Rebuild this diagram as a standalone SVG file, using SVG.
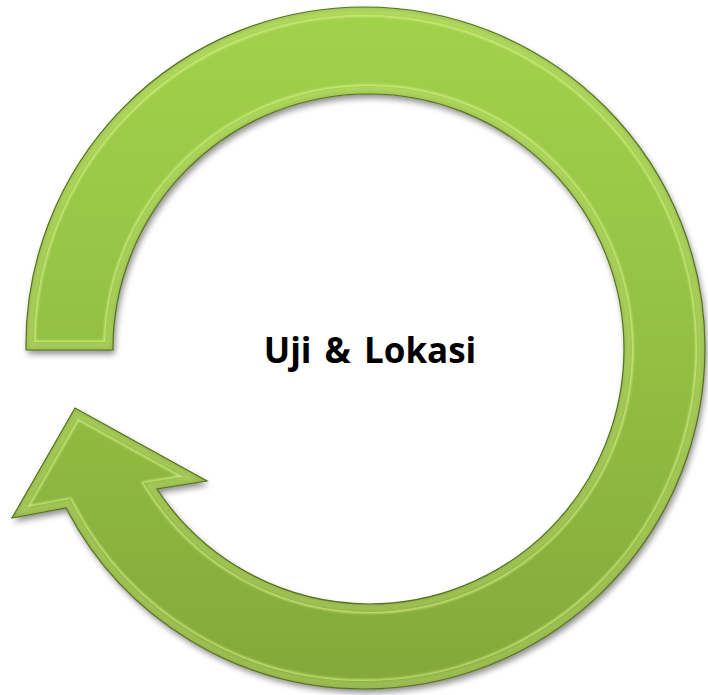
<svg xmlns="http://www.w3.org/2000/svg" width="708" height="695" viewBox="0 0 708 695">
  <style>
    .label { font-family: "Open Sans", "Noto Sans", "Liberation Sans", sans-serif; font-weight: bold; font-size: 35px; fill: #000; }
    .edge { fill: none; stroke: #55741c; stroke-width: 1.2; }
    .bevel-line { fill: none; stroke: #dcf68e; stroke-width: 19; stroke-opacity: 0.7; }
    .bevel-band { fill: none; stroke: url(#greenFill); stroke-width: 16; }
    .bevel-light { fill: none; stroke: #e4f99a; stroke-width: 14; stroke-opacity: 0.35; }
    .bevel-dark { fill: none; stroke: #5f8224; stroke-width: 5; stroke-opacity: 0.35; }
  </style>
  <defs>
    <path id="arrowShape" d="M 26,350 A 338,338 0 0 1 363,7 A 341,341 0 0 1 705,350 A 341,341 0 0 1 364,689 A 336,336 0 0 1 66,508 L 12,518 L 75,408 L 207,481 L 157,489 A 255,255 0 0 0 369,604 A 255,255 0 0 0 624,349 A 255,255 0 0 0 369,94 A 255,255 0 0 0 113,350 Z"/>
    <linearGradient id="greenFill" gradientUnits="userSpaceOnUse" x1="0" y1="7" x2="0" y2="689">
      <stop offset="0" stop-color="#a2d24c"/>
      <stop offset="0.5" stop-color="#93c043"/>
      <stop offset="1" stop-color="#84a83a"/>
    </linearGradient>
    <clipPath id="arrowClip">
      <use href="#arrowShape"/>
    </clipPath>
    <filter id="shadow" x="-10%" y="-10%" width="120%" height="120%">
      <feGaussianBlur in="SourceAlpha" stdDeviation="3"/>
      <feOffset dx="2" dy="4" result="b"/>
      <feComponentTransfer><feFuncA type="linear" slope="0.45"/></feComponentTransfer>
      <feMerge><feMergeNode/><feMergeNode in="SourceGraphic"/></feMerge>
    </filter>
    <filter id="soft" x="-10%" y="-10%" width="120%" height="120%">
      <feGaussianBlur stdDeviation="2.5"/>
    </filter>
    <filter id="softer" x="-10%" y="-10%" width="120%" height="120%">
      <feGaussianBlur stdDeviation="0.8"/>
    </filter>
  </defs>

  <g id="cycle-arrow">
    <g filter="url(#shadow)">
      <use href="#arrowShape" fill="url(#greenFill)"/>
    </g>
    <g clip-path="url(#arrowClip)">
      <use href="#arrowShape" class="bevel-line" filter="url(#softer)"/>
      <use href="#arrowShape" class="bevel-band"/>
      <use href="#arrowShape" class="bevel-light" filter="url(#soft)"/>
      <use href="#arrowShape" class="bevel-dark" filter="url(#soft)"/>
    </g>
    <use href="#arrowShape" class="edge"/>
  </g>

  <g id="label">
    <text class="label" x="370" y="363" text-anchor="middle" word-spacing="4">Uji &amp; Lokasi</text>
  </g>
</svg>
